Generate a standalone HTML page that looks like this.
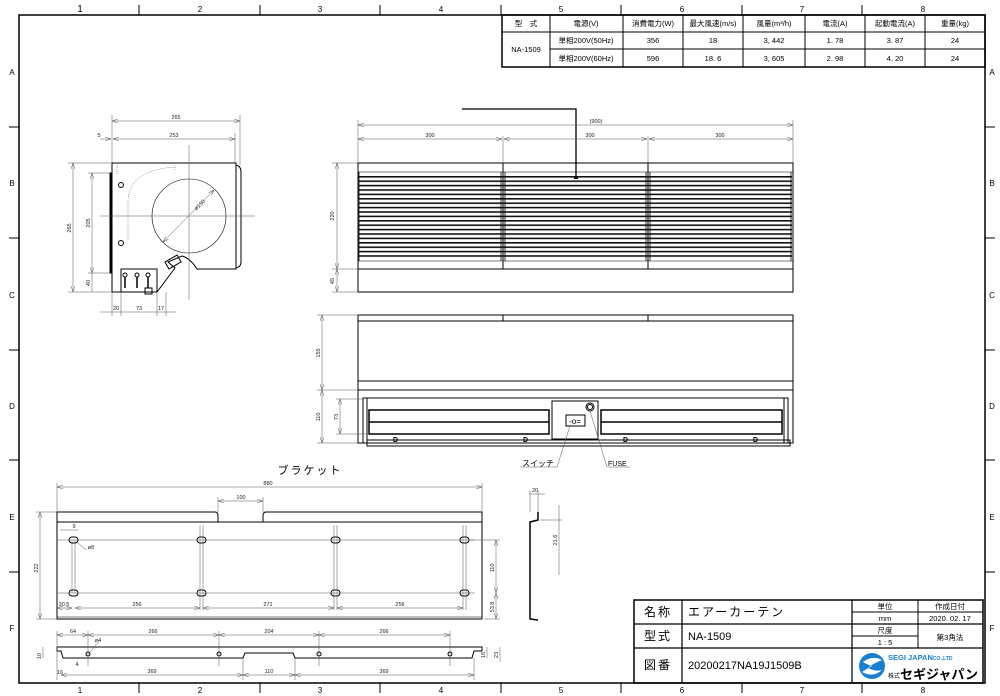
<!DOCTYPE html>
<html><head><meta charset="utf-8"><style>
html,body{margin:0;padding:0;background:#fff;}
svg{display:block;font-family:"Liberation Sans","Noto Sans CJK JP",sans-serif;}
.t{font-size:8px;fill:#000}
.d{font-size:5.5px;fill:#222}
</style></head><body>
<svg width="1000" height="696" viewBox="0 0 1000 696" xmlns="http://www.w3.org/2000/svg">
<defs>
<pattern id="lv" x="0" y="176" width="10" height="4.4" patternUnits="userSpaceOnUse">
<rect x="0" y="0" width="10" height="1.6" fill="#111"/>
</pattern>
<marker id="a" markerWidth="6" markerHeight="4" refX="6" refY="2" orient="auto-start-reverse" markerUnits="userSpaceOnUse"><path d="M0,0L6,2L0,4" fill="none" stroke="#555" stroke-width="0.5"/></marker>
</defs>
<!-- frame -->
<rect x="19" y="15" width="966" height="668" fill="none" stroke="#000" stroke-width="1.5"/>
<g stroke="#000" stroke-width="1">
<line x1="139" y1="5" x2="139" y2="15"/><line x1="260" y1="5" x2="260" y2="15"/><line x1="380" y1="5" x2="380" y2="15"/><line x1="501" y1="5" x2="501" y2="15"/><line x1="621" y1="5" x2="621" y2="15"/><line x1="742" y1="5" x2="742" y2="15"/><line x1="862" y1="5" x2="862" y2="15"/>
<line x1="139" y1="683" x2="139" y2="693"/><line x1="260" y1="683" x2="260" y2="693"/><line x1="380" y1="683" x2="380" y2="693"/><line x1="501" y1="683" x2="501" y2="693"/><line x1="621" y1="683" x2="621" y2="693"/><line x1="742" y1="683" x2="742" y2="693"/><line x1="862" y1="683" x2="862" y2="693"/>
<line x1="9" y1="127" x2="19" y2="127"/><line x1="9" y1="238" x2="19" y2="238"/><line x1="9" y1="350" x2="19" y2="350"/><line x1="9" y1="460" x2="19" y2="460"/><line x1="9" y1="572" x2="19" y2="572"/>
<line x1="985" y1="127" x2="995" y2="127"/><line x1="985" y1="238" x2="995" y2="238"/><line x1="985" y1="350" x2="995" y2="350"/><line x1="985" y1="460" x2="995" y2="460"/><line x1="985" y1="572" x2="995" y2="572"/>
</g>
<g class="t" text-anchor="middle">
<text x="80" y="12" font-size="10">1</text><text x="200" y="12">2</text><text x="320" y="12">3</text><text x="441" y="12">4</text><text x="561" y="12">5</text><text x="682" y="12">6</text><text x="802" y="12">7</text><text x="923" y="12">8</text>
<text x="80" y="693">1</text><text x="200" y="693">2</text><text x="320" y="693">3</text><text x="441" y="693">4</text><text x="561" y="693">5</text><text x="682" y="693">6</text><text x="802" y="693">7</text><text x="923" y="693">8</text>
<text x="12" y="75">A</text><text x="12" y="186">B</text><text x="12" y="298">C</text><text x="12" y="409">D</text><text x="12" y="520">E</text><text x="12" y="631">F</text>
<text x="992" y="75">A</text><text x="992" y="186">B</text><text x="992" y="298">C</text><text x="992" y="409">D</text><text x="992" y="520">E</text><text x="992" y="631">F</text>
</g>
<!-- spec table -->
<g stroke="#000" fill="none">
<rect x="502" y="15" width="483" height="52" stroke-width="1.5"/>
<line x1="502" y1="32" x2="985" y2="32"/>
<line x1="550" y1="49" x2="985" y2="49"/>
<line x1="550" y1="15" x2="550" y2="67"/><line x1="623" y1="15" x2="623" y2="67"/><line x1="683" y1="15" x2="683" y2="67"/><line x1="743" y1="15" x2="743" y2="67"/><line x1="805" y1="15" x2="805" y2="67"/><line x1="865" y1="15" x2="865" y2="67"/><line x1="925" y1="15" x2="925" y2="67"/>
</g>
<g font-size="7.5" text-anchor="middle" fill="#000">
<text x="526" y="26">型　式</text><text x="586" y="26">電源(V)</text><text x="653" y="26">消費電力(W)</text><text x="713" y="26">最大風速(m/s)</text><text x="774" y="26">風量(m³/h)</text><text x="835" y="26">電流(A)</text><text x="895" y="26">起動電流(A)</text><text x="955" y="26">重量(kg)</text>
<text x="526" y="52">NA-1509</text>
<text x="586" y="43">単相200V(50Hz)</text><text x="653" y="43">356</text><text x="713" y="43">18</text><text x="774" y="43">3, 442</text><text x="835" y="43">1. 78</text><text x="895" y="43">3. 87</text><text x="955" y="43">24</text>
<text x="586" y="61">単相200V(60Hz)</text><text x="653" y="61">596</text><text x="713" y="61">18. 6</text><text x="774" y="61">3, 605</text><text x="835" y="61">2. 98</text><text x="895" y="61">4. 20</text><text x="955" y="61">24</text>
</g>
<!-- side view -->
<g stroke="#000" fill="none" stroke-width="1">
<path d="M112,163 H236 V269 H197 Q190,258 182,256 L168,262 L175,268 L157,292 H112 Z"/>
<rect x="110" y="173" width="2" height="100" fill="#000"/>
<path d="M236,165 Q241,166 241,172 V262 Q241,267 236,268"/>
<rect x="121" y="269" width="36" height="23"/>
<rect x="166" y="258" width="14" height="8" transform="rotate(-30 173 262)"/>
<circle cx="189" cy="216" r="37" stroke-width="0.6"/>
<circle cx="121" cy="185" r="2.5"/><circle cx="121" cy="243" r="2.5"/>
<circle cx="125" cy="275" r="2"/><circle cx="137" cy="275" r="2"/><circle cx="148" cy="275" r="2"/>
<path d="M125,277 V288 M137,277 V288 M148,277 V288" stroke-width="1.5"/>
<rect x="145" y="288" width="7" height="6"/>
</g>
<g stroke="#555" stroke-width="0.5" fill="none">
<path d="M128,239 V200 Q130,170 175,167 M175,165 V170 M117,165 V175" stroke-dasharray="1,1"/>
<line x1="100" y1="216" x2="255" y2="216"/><line x1="189" y1="145" x2="189" y2="300"/>
<line x1="163" y1="242" x2="214" y2="190" marker-start="url(#a)" marker-end="url(#a)"/>
<line x1="112" y1="121" x2="240" y2="121" marker-start="url(#a)" marker-end="url(#a)"/>
<line x1="113" y1="139" x2="235" y2="139" marker-start="url(#a)" marker-end="url(#a)"/>
<line x1="100" y1="139" x2="111" y2="139" marker-end="url(#a)"/>
<line x1="112" y1="115" x2="112" y2="163"/><line x1="240" y1="115" x2="240" y2="165"/><line x1="235" y1="133" x2="235" y2="163"/>
<line x1="73" y1="163" x2="73" y2="292" marker-start="url(#a)" marker-end="url(#a)"/>
<line x1="92" y1="173" x2="92" y2="273" marker-start="url(#a)" marker-end="url(#a)"/>
<line x1="92" y1="273" x2="92" y2="292"/>
<line x1="68" y1="163" x2="112" y2="163"/><line x1="68" y1="292" x2="112" y2="292"/><line x1="88" y1="173" x2="110" y2="173"/><line x1="88" y1="273" x2="110" y2="273"/>
<line x1="100" y1="312" x2="176" y2="312"/>
<line x1="112" y1="292" x2="112" y2="316"/><line x1="121" y1="292" x2="121" y2="316"/><line x1="157" y1="292" x2="157" y2="316"/><line x1="166" y1="292" x2="166" y2="316"/>
</g>
<g class="d" text-anchor="middle">
<text x="176" y="119">265</text><text x="174" y="137">253</text><text x="99" y="137">5</text>
<text x="116" y="310">20</text><text x="139" y="310">73</text><text x="161" y="310">17</text>
<text x="71" y="228" transform="rotate(-90 71 228)">265</text>
<text x="90" y="223" transform="rotate(-90 90 223)">205</text>
<text x="90" y="283" transform="rotate(-90 90 283)">40</text>
<text x="201" y="206" transform="rotate(-45 201 206)">ø150</text>
</g>
<!-- front view -->
<g stroke="#000" fill="none">
<rect x="358" y="163" width="435" height="129" stroke-width="1"/>
<line x1="358" y1="269" x2="793" y2="269"/>
<line x1="503" y1="163" x2="503" y2="269"/><line x1="648" y1="163" x2="648" y2="269"/>
<line x1="358" y1="172" x2="793" y2="172" stroke-width="0.6"/><line x1="358" y1="261" x2="793" y2="261" stroke-width="0.6"/>
</g>
<rect x="359" y="175" width="433" height="84" fill="url(#lv)"/>
<g stroke="#000" stroke-width="0.8"><line x1="359" y1="172" x2="359" y2="261"/><line x1="501" y1="172" x2="501" y2="261"/><line x1="505" y1="172" x2="505" y2="261"/><line x1="646" y1="172" x2="646" y2="261"/><line x1="650" y1="172" x2="650" y2="261"/><line x1="791" y1="172" x2="791" y2="261"/></g>
<path d="M462,109 H576 V178" fill="none" stroke="#000" stroke-width="1.3"/>
<rect x="574" y="176" width="4" height="3" fill="#000"/>
<g stroke="#555" stroke-width="0.5" fill="none">
<line x1="358" y1="125" x2="793" y2="125" marker-start="url(#a)" marker-end="url(#a)"/>
<line x1="358" y1="139" x2="502" y2="139" marker-start="url(#a)" marker-end="url(#a)"/>
<line x1="504" y1="139" x2="647" y2="139" marker-start="url(#a)" marker-end="url(#a)"/>
<line x1="649" y1="139" x2="793" y2="139" marker-start="url(#a)" marker-end="url(#a)"/>
<line x1="358" y1="120" x2="358" y2="163"/><line x1="793" y1="120" x2="793" y2="163"/><line x1="503" y1="136" x2="503" y2="163"/><line x1="648" y1="136" x2="648" y2="163"/>
<line x1="337" y1="163" x2="337" y2="269" marker-start="url(#a)" marker-end="url(#a)"/>
<line x1="337" y1="269" x2="337" y2="292" marker-start="url(#a)" marker-end="url(#a)"/>
<line x1="332" y1="163" x2="358" y2="163"/><line x1="332" y1="269" x2="358" y2="269"/><line x1="332" y1="292" x2="358" y2="292"/>
</g>
<g class="d" text-anchor="middle">
<text x="596" y="123">(900)</text><text x="430" y="137">300</text><text x="590" y="137">300</text><text x="720" y="137">300</text>
<text x="334" y="216" transform="rotate(-90 334 216)">220</text><text x="334" y="281" transform="rotate(-90 334 281)">45</text>
</g>
<!-- bottom view -->
<g stroke="#000" fill="none" stroke-width="1">
<rect x="358" y="315" width="435" height="128"/>
<line x1="358" y1="321" x2="793" y2="321"/><line x1="503" y1="315" x2="503" y2="321"/><line x1="648" y1="315" x2="648" y2="321"/>
<line x1="358" y1="381" x2="793" y2="381"/><line x1="358" y1="390" x2="793" y2="390"/>
<path d="M363,443 V398 H788 V443"/>
<path d="M367,398 V443 M784,398 V443"/>
<rect x="367" y="440" width="423" height="6"/>
<rect x="369" y="410" width="180" height="24" stroke-width="1.5"/><line x1="369" y1="422" x2="549" y2="422" stroke-width="1.5"/>
<rect x="601" y="410" width="181" height="24" stroke-width="1.5"/><line x1="601" y1="422" x2="782" y2="422" stroke-width="1.5"/>
<rect x="552" y="401" width="46" height="38" fill="#fff"/>
<rect x="566" y="415" width="19" height="11"/>
<circle cx="590" cy="407" r="4"/><circle cx="590" cy="407" r="2.5"/>
</g>
<text x="575" y="424" font-size="8" text-anchor="middle">-o=</text>
<g font-size="7" font-weight="bold"><text x="393" y="442">D</text><text x="523" y="442">D</text><text x="623" y="442">D</text><text x="753" y="442">D</text></g>
<g stroke="#555" stroke-width="0.5" fill="none">
<line x1="570" y1="426" x2="557" y2="467"/><line x1="520" y1="467" x2="557" y2="467"/>
<line x1="590" y1="411" x2="607" y2="467"/><line x1="607" y1="467" x2="630" y2="467"/>
<line x1="322" y1="315" x2="322" y2="390" marker-start="url(#a)" marker-end="url(#a)"/>
<line x1="322" y1="390" x2="322" y2="443" marker-start="url(#a)" marker-end="url(#a)"/>
<line x1="340" y1="399" x2="340" y2="434" marker-start="url(#a)" marker-end="url(#a)"/>
<line x1="317" y1="315" x2="358" y2="315"/><line x1="317" y1="390" x2="358" y2="390"/><line x1="317" y1="443" x2="358" y2="443"/><line x1="336" y1="399" x2="363" y2="399"/><line x1="336" y1="434" x2="369" y2="434"/>
</g>
<g class="d" text-anchor="middle">
<text x="320" y="353" transform="rotate(-90 320 353)">155</text><text x="320" y="417" transform="rotate(-90 320 417)">110</text><text x="338" y="417" transform="rotate(-90 338 417)">73</text>
</g>
<text x="522" y="466" font-size="8">スイッチ</text><text x="608" y="466" font-size="7">FUSE</text>
<!-- bracket -->
<text x="310" y="474" font-size="11" text-anchor="middle" letter-spacing="2">ブラケット</text>
<g stroke="#000" fill="none" stroke-width="1">
<path d="M57,512 H215 Q218,512 218,516 V522 H263 V516 Q263,512 266,512 H482 V619 H57 Z"/>
<line x1="57" y1="522" x2="482" y2="522"/>
<line x1="57" y1="617" x2="482" y2="617" stroke-width="0.5"/>
<g stroke-width="1"><rect x="69" y="537" width="9" height="6" rx="3"/><rect x="197" y="537" width="9" height="6" rx="3"/><rect x="331" y="537" width="9" height="6" rx="3"/><rect x="460" y="537" width="9" height="6" rx="3"/>
<rect x="69" y="590" width="9" height="6" rx="3"/><rect x="197" y="590" width="9" height="6" rx="3"/><rect x="331" y="590" width="9" height="6" rx="3"/><rect x="460" y="590" width="9" height="6" rx="3"/></g>
<path d="M538,512 V520 L530,522 V619 L538,620" stroke-width="1.5"/>
<path d="M57,647 H482 V651 H474 L472,658 H295 L293,653 H245 L243,658 H63 L61,651 H57 Z"/>
<circle cx="88" cy="654" r="2"/><circle cx="219" cy="654" r="2"/><circle cx="319" cy="654" r="2"/><circle cx="450" cy="654" r="2"/>
</g>
<g stroke="#555" stroke-width="0.5" fill="none">
<line x1="58" y1="540" x2="475" y2="540"/><line x1="58" y1="593" x2="475" y2="593"/>
<line x1="72" y1="540" x2="72" y2="593"/><line x1="75" y1="540" x2="75" y2="593"/><line x1="200" y1="525" x2="200" y2="610"/><line x1="203" y1="525" x2="203" y2="610"/><line x1="334" y1="525" x2="334" y2="610"/><line x1="337" y1="525" x2="337" y2="610"/><line x1="463" y1="525" x2="463" y2="610"/><line x1="466" y1="525" x2="466" y2="610"/>
<line x1="57" y1="487" x2="482" y2="487" marker-start="url(#a)" marker-end="url(#a)"/>
<line x1="57" y1="483" x2="57" y2="512"/><line x1="482" y1="483" x2="482" y2="512"/>
<line x1="218" y1="501" x2="263" y2="501" marker-start="url(#a)" marker-end="url(#a)"/>
<line x1="218" y1="497" x2="218" y2="512"/><line x1="263" y1="497" x2="263" y2="512"/>
<line x1="40" y1="512" x2="40" y2="619" marker-start="url(#a)" marker-end="url(#a)"/>
<line x1="36" y1="512" x2="57" y2="512"/><line x1="36" y1="619" x2="57" y2="619"/>
<line x1="57" y1="608" x2="72" y2="608" marker-start="url(#a)" marker-end="url(#a)"/>
<line x1="75" y1="608" x2="200" y2="608" marker-start="url(#a)" marker-end="url(#a)"/>
<line x1="203" y1="608" x2="334" y2="608" marker-start="url(#a)" marker-end="url(#a)"/>
<line x1="337" y1="608" x2="463" y2="608" marker-start="url(#a)" marker-end="url(#a)"/>
<line x1="496" y1="540" x2="496" y2="593" marker-start="url(#a)" marker-end="url(#a)"/>
<line x1="496" y1="593" x2="496" y2="619" marker-start="url(#a)" marker-end="url(#a)"/>
<line x1="468" y1="540" x2="500" y2="540"/><line x1="484" y1="619" x2="500" y2="619"/>
<line x1="60" y1="530" x2="78" y2="530"/>
<line x1="78" y1="543" x2="86" y2="550"/>
<line x1="529" y1="494" x2="545" y2="494"/><line x1="530" y1="490" x2="530" y2="512"/><line x1="538" y1="490" x2="538" y2="512"/>
<line x1="559" y1="505" x2="559" y2="575"/><line x1="540" y1="520" x2="562" y2="520"/>
<line x1="57" y1="635" x2="88" y2="635" marker-start="url(#a)" marker-end="url(#a)"/>
<line x1="88" y1="635" x2="219" y2="635" marker-start="url(#a)" marker-end="url(#a)"/>
<line x1="219" y1="635" x2="319" y2="635" marker-start="url(#a)" marker-end="url(#a)"/>
<line x1="319" y1="635" x2="450" y2="635" marker-start="url(#a)" marker-end="url(#a)"/>
<line x1="57" y1="631" x2="57" y2="680"/><line x1="88" y1="631" x2="88" y2="666"/><line x1="219" y1="631" x2="219" y2="666"/><line x1="319" y1="631" x2="319" y2="666"/><line x1="450" y1="631" x2="450" y2="666"/>
<line x1="61" y1="675" x2="243" y2="675" marker-start="url(#a)" marker-end="url(#a)"/>
<line x1="243" y1="675" x2="295" y2="675" marker-start="url(#a)" marker-end="url(#a)"/>
<line x1="295" y1="675" x2="474" y2="675" marker-start="url(#a)" marker-end="url(#a)"/>
<line x1="243" y1="658" x2="243" y2="680"/><line x1="295" y1="658" x2="295" y2="680"/><line x1="474" y1="658" x2="474" y2="680"/>
<line x1="43" y1="647" x2="43" y2="658"/><line x1="487" y1="647" x2="487" y2="658"/><line x1="500" y1="647" x2="500" y2="662"/>
<line x1="90" y1="652" x2="100" y2="640"/>
</g>
<g class="d" text-anchor="middle">
<text x="268" y="485">880</text><text x="241" y="499">100</text><text x="74" y="528">9</text><text x="91" y="549">ø8</text>
<text x="38" y="568" transform="rotate(-90 38 568)">222</text>
<text x="64" y="606">30.5</text><text x="137" y="606">256</text><text x="268" y="606">271</text><text x="400" y="606">256</text>
<text x="494" y="568" transform="rotate(-90 494 568)">110</text><text x="494" y="607" transform="rotate(-90 494 607)">53.8</text>
<text x="535" y="492">20</text><text x="557" y="540" transform="rotate(-90 557 540)">21.6</text>
<text x="73" y="633">64</text><text x="153" y="633">266</text><text x="269" y="633">204</text><text x="384" y="633">266</text>
<text x="152" y="673">369</text><text x="269" y="673">110</text><text x="384" y="673">369</text>
<text x="41" y="656" transform="rotate(-90 41 656)">10</text><text x="485" y="655" transform="rotate(-90 485 655)">16</text><text x="498" y="655" transform="rotate(-90 498 655)">23</text>
<text x="60" y="674">16</text><text x="77" y="666">4</text><text x="98" y="642">ø4</text>
</g>
<!-- title block -->
<g stroke="#000" fill="none">
<rect x="634" y="600" width="349" height="83" stroke-width="1.5"/>
<line x1="634" y1="624" x2="852" y2="624" stroke-width="1.2"/><line x1="634" y1="648" x2="983" y2="648" stroke-width="1.2"/>
<line x1="682" y1="600" x2="682" y2="683" stroke-width="1.2"/><line x1="852" y1="600" x2="852" y2="683" stroke-width="1.2"/>
<line x1="918" y1="600" x2="918" y2="648"/>
<line x1="852" y1="612" x2="983" y2="612"/><line x1="852" y1="624" x2="983" y2="624" stroke-width="1.2"/><line x1="852" y1="636" x2="918" y2="636"/>
</g>
<g fill="#000">
<text x="658" y="616" font-size="12" text-anchor="middle" letter-spacing="2">名称</text>
<text x="658" y="640" font-size="12" text-anchor="middle" letter-spacing="2">型式</text>
<text x="658" y="669" font-size="12" text-anchor="middle" letter-spacing="2">図番</text>
<text x="688" y="616" font-size="12" letter-spacing="2">エアーカーテン</text>
<text x="688" y="640" font-size="11">NA-1509</text>
<text x="688" y="669" font-size="11">20200217NA19J1509B</text>
<g font-size="7.5" text-anchor="middle"><text x="885" y="609">単位</text><text x="950" y="609">作成日付</text><text x="885" y="621">mm</text><text x="950" y="621">2020. 02. 17</text><text x="885" y="633">尺度</text><text x="885" y="645">1 : 5</text><text x="950" y="640">第3角法</text></g>
</g>
<circle cx="872" cy="666" r="13" fill="#1a7fd0"/>
<path d="M863,662 Q872,655 882,660 Q872,664 868,668 Q876,672 882,670 Q873,678 862,672 Q868,668 872,666 Q866,664 863,662Z" fill="#fff"/>
<text x="888" y="660" font-size="7.5" font-weight="bold" fill="#1a7fd0">SEGI JAPAN<tspan font-size="5">CO.,LTD</tspan></text>
<text x="888" y="678" font-size="6" fill="#000">株式</text>
<text x="900" y="679" font-size="13" font-weight="bold" fill="#000">セギジャパン</text>
</svg>
</body></html>
